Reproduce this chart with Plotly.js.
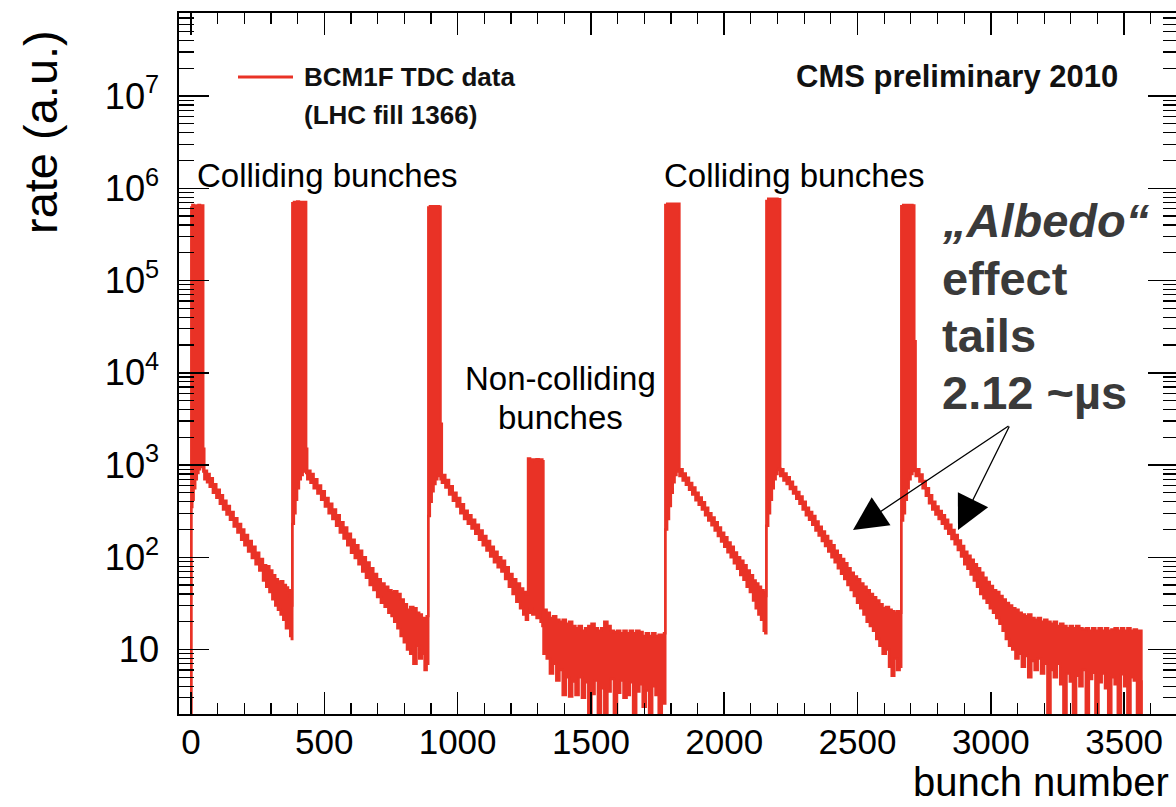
<!DOCTYPE html>
<html>
<head>
<meta charset="utf-8">
<script src="https://cdn.plot.ly/plotly-3.0.1.min.js"></script>
<style>
html,body{margin:0;padding:0;background:#ffffff;overflow:hidden;}
#chart{width:1178px;height:807px;}
</style>
</head>
<body>
<div id="chart"></div>
<script>
// Each row: [bunch number, upper edge of the noisy histogram band, lower edge] (rate, a.u.)
const startRows = [[0, 0.5, 0.5]];
const train1 = [
  [1, 6.2e5, 350], [5, 6.6e5, 420], [10, 6.4e5, 560], [16, 6.5e5, 700],
  [22, 6.3e5, 820], [28, 6.6e5, 900], [34, 6.4e5, 950], [40, 6.5e5, 1000], [46, 1500, 850]
];
const tail1 = [
  [50, 870, 700], [60, 800, 650], [70, 720, 580], [82, 620, 500], [95, 540, 440],
  [108, 470, 380], [120, 410, 330], [133, 360, 290], [146, 310, 255], [160, 265, 215],
  [174, 230, 185], [188, 200, 155], [200, 175, 135], [214, 150, 115], [228, 130, 98],
  [242, 112, 84], [256, 96, 72], [270, 82, 56], [282, 80, 48], [294, 72, 42],
  [305, 64, 35], [316, 58, 30], [326, 54, 27], [336, 55, 24], [346, 50, 21],
  [356, 47, 17], [364, 44, 19], [372, 36, 14], [378, 30, 13]
];
const train2 = [
  [380, 6.9e5, 230], [386, 7.1e5, 300], [392, 7.0e5, 420], [398, 7.2e5, 560],
  [405, 7.0e5, 700], [412, 7.1e5, 780], [419, 6.9e5, 850], [426, 7.1e5, 900], [432, 1500, 820]
];
const tail2 = [
  [436, 870, 700], [448, 800, 640], [460, 700, 560], [474, 600, 490], [488, 520, 420],
  [502, 440, 355], [516, 380, 300], [530, 330, 260], [544, 285, 220], [558, 240, 185],
  [572, 210, 160], [586, 180, 135], [600, 155, 112], [614, 135, 98], [628, 118, 84],
  [642, 100, 70], [656, 88, 60], [670, 76, 50], [684, 66, 44], [698, 58, 37],
  [712, 52, 32], [726, 48, 29], [740, 44, 25], [752, 42, 23], [762, 43, 20],
  [774, 40, 17], [786, 35, 14], [798, 31, 12], [810, 27, 10], [822, 29, 9],
  [834, 28, 7], [846, 25, 11], [856, 24, 8], [866, 22, 9], [876, 21, 6], [884, 23, 7]
];
const train3 = [
  [890, 6.2e5, 280], [896, 6.4e5, 400], [903, 6.3e5, 520], [910, 6.4e5, 620],
  [917, 6.2e5, 700], [924, 6.4e5, 760], [930, 6.3e5, 780], [936, 2800, 700]
];
const tail3 = [
  [941, 780, 640], [954, 690, 570], [968, 590, 480], [982, 500, 410], [996, 440, 355],
  [1010, 375, 300], [1024, 320, 260], [1038, 285, 230], [1052, 255, 205], [1066, 225, 180],
  [1080, 195, 155], [1094, 170, 135], [1108, 150, 118], [1122, 130, 102], [1136, 115, 88],
  [1150, 100, 78], [1164, 92, 70], [1178, 78, 58], [1192, 66, 48], [1206, 58, 40],
  [1220, 52, 33], [1234, 46, 28], [1246, 42, 24], [1256, 40, 21]
];
const nonColliding = [
  [1264, 1180, 25], [1272, 1100, 28], [1280, 1150, 24], [1288, 1140, 26],
  [1296, 1160, 22], [1304, 1120, 25], [1311, 1150, 20], [1318, 1100, 18]
];
const floor1 = [
  [1322, 27, 9], [1334, 25, 8], [1346, 22, 5.5], [1358, 23, 7], [1370, 21, 4.6],
  [1382, 20, 6], [1394, 21, 3.2], [1406, 19, 5], [1418, 20, 3.1], [1430, 18, 4.5],
  [1442, 17, 3.2], [1454, 18, 5], [1466, 16, 3.0], [1478, 17, 4.4], [1490, 18, 1],
  [1502, 19, 3.3], [1514, 17, 4.6], [1526, 16, 1], [1538, 17, 3.8], [1550, 20, 1],
  [1562, 18, 3.5], [1574, 16, 4.8], [1586, 15.5, 1], [1598, 16, 3.4], [1610, 15, 4.6],
  [1622, 16, 3.0], [1634, 15, 3.2], [1646, 16, 4.4], [1658, 15, 1], [1670, 16, 3.5],
  [1682, 15.5, 4.2], [1694, 14, 2.4], [1706, 15, 3.6], [1718, 14, 1], [1730, 15, 4.0],
  [1742, 14, 3.2], [1754, 14.5, 1], [1766, 14, 3.6], [1774, 15, 2.6]
];
const train4 = [
  [1779, 6.6e5, 200], [1786, 6.8e5, 260], [1793, 6.7e5, 360], [1800, 6.8e5, 500],
  [1807, 6.6e5, 650], [1814, 6.8e5, 780], [1821, 6.7e5, 850], [1828, 6.8e5, 880]
];
const tail4 = [
  [1832, 900, 760], [1844, 810, 680], [1856, 730, 610], [1868, 640, 540], [1880, 570, 480],
  [1892, 500, 415], [1904, 445, 370], [1916, 395, 330], [1928, 345, 285], [1940, 300, 250],
  [1952, 270, 222], [1964, 240, 195], [1976, 210, 170], [1988, 185, 148], [2000, 165, 130],
  [2012, 145, 113], [2024, 130, 100], [2036, 113, 86], [2048, 100, 75], [2060, 92, 64],
  [2072, 82, 57], [2084, 72, 48], [2096, 64, 42], [2108, 56, 34], [2118, 52, 28],
  [2128, 48, 24], [2138, 44, 21], [2148, 42, 16], [2154, 38, 15]
];
const train5 = [
  [2158, 7.3e5, 220], [2165, 7.7e5, 300], [2172, 7.5e5, 420], [2179, 7.7e5, 560],
  [2186, 7.6e5, 700], [2193, 7.7e5, 800], [2200, 7.4e5, 880], [2206, 7.6e5, 920]
];
const tail5 = [
  [2210, 900, 760], [2222, 810, 680], [2234, 740, 620], [2246, 660, 550], [2258, 580, 490],
  [2270, 510, 430], [2282, 455, 380], [2294, 400, 330], [2306, 345, 285], [2318, 310, 255],
  [2330, 280, 225], [2342, 245, 195], [2354, 215, 172], [2366, 190, 150], [2378, 170, 132],
  [2390, 150, 115], [2402, 135, 100], [2414, 118, 88], [2426, 105, 76], [2438, 96, 66],
  [2450, 86, 58], [2462, 76, 50], [2474, 68, 44], [2486, 62, 38], [2498, 58, 32],
  [2510, 52, 28], [2522, 48, 24], [2534, 44, 20], [2546, 40, 18], [2558, 37, 16],
  [2570, 34, 13], [2582, 31, 11], [2594, 28, 9], [2606, 29, 10], [2618, 27, 6.5],
  [2628, 26, 5.2], [2638, 25, 8], [2648, 26, 6], [2658, 25, 6.5]
];
const train6 = [
  [2664, 6.4e5, 250], [2671, 6.6e5, 300], [2678, 6.5e5, 420], [2685, 6.6e5, 560],
  [2692, 6.4e5, 700], [2699, 6.6e5, 800], [2706, 6.5e5, 860], [2713, 2.2e4, 880]
];
const tail6 = [
  [2718, 900, 760], [2732, 790, 660], [2744, 670, 560], [2756, 560, 465], [2768, 470, 385],
  [2780, 400, 330], [2792, 355, 290], [2804, 318, 260], [2816, 285, 230], [2828, 255, 205],
  [2840, 225, 180], [2852, 198, 158], [2864, 175, 138], [2876, 152, 120], [2888, 133, 102],
  [2900, 115, 84], [2912, 104, 75], [2924, 94, 65], [2936, 84, 56], [2948, 76, 48],
  [2960, 68, 40], [2972, 60, 36], [2984, 54, 32], [2996, 49, 28], [3008, 44, 25],
  [3020, 42, 22], [3032, 38, 19], [3044, 35, 16], [3056, 32, 13], [3068, 30, 11],
  [3080, 28, 10], [3092, 27, 8], [3104, 25, 9], [3116, 24, 6.5], [3128, 23, 8.5],
  [3140, 24, 5], [3152, 22, 7.5], [3164, 21, 6], [3176, 22, 8], [3188, 20, 5.5],
  [3200, 21, 7], [3212, 20, 1], [3224, 19, 6], [3236, 20, 5], [3248, 18, 7],
  [3260, 19, 4.2], [3272, 18, 1], [3284, 17, 5.5], [3296, 18, 4.5], [3308, 17, 1],
  [3320, 18, 5.2], [3332, 17, 4], [3344, 16.5, 6], [3356, 17, 1], [3368, 16, 4.8],
  [3380, 17, 5.6], [3392, 16, 1], [3404, 17, 4.4], [3416, 16, 5.5], [3428, 17, 3.8],
  [3440, 16, 1], [3452, 16.5, 5], [3464, 17, 4.2], [3476, 16, 1], [3488, 17, 5.4],
  [3500, 16, 4], [3512, 17, 1], [3524, 16, 5], [3536, 16.5, 4.6], [3548, 16, 1], [3558, 16, 4.5]
];
const endRows = [[3565, 0.5, 0.5]];

const segments = [startRows, train1, tail1, train2, tail2, train3, tail3, nonColliding,
  floor1, train4, tail4, train5, tail5, train6, tail6, endRows];
const rows = [].concat(...segments);
const bunch = rows.map(r => r[0]);
const rateUpper = rows.map(r => r[1]);
const rateLower = rows.map(r => r[2]);

const RED = '#e93226';
const FONT = 'Liberation Sans, Arial, Helvetica, sans-serif';

const traces = [
  {x: bunch, y: rateLower, type: 'scatter', mode: 'lines',
   line: {color: RED, width: 2.4, shape: 'hv'}, hoverinfo: 'skip', showlegend: false},
  {x: bunch, y: rateUpper, type: 'scatter', mode: 'lines', fill: 'tonexty', fillcolor: RED,
   line: {color: RED, width: 2.4, shape: 'hv'}, name: 'BCM1F TDC data', showlegend: false}
];

// paper coordinate helpers (plot area: 179..1178 px wide, 13..714 px tall)
const PX = v => (v - 179) / 999;
const PY = v => (714 - v) / 701;

const annotations = [
  {text: 'rate (a.u.)', xref: 'paper', yref: 'paper', x: PX(41), y: PY(132), textangle: -90,
   showarrow: false, font: {family: FONT, size: 47, color: '#000'}, xanchor: 'center', yanchor: 'middle'},
  {text: 'bunch number', xref: 'paper', yref: 'paper', x: PX(1171), y: PY(782),
   showarrow: false, font: {family: FONT, size: 40, color: '#000'}, xanchor: 'right', yanchor: 'middle'},
  {text: '<b>BCM1F TDC data</b>', xref: 'paper', yref: 'paper', x: PX(302), y: PY(77),
   showarrow: false, font: {family: FONT, size: 26, color: '#111'}, xanchor: 'left', yanchor: 'middle'},
  {text: '<b>(LHC fill 1366)</b>', xref: 'paper', yref: 'paper', x: PX(302), y: PY(115),
   showarrow: false, font: {family: FONT, size: 26, color: '#111'}, xanchor: 'left', yanchor: 'middle'},
  {text: '<b>CMS preliminary 2010</b>', xref: 'paper', yref: 'paper', x: PX(1120), y: PY(77),
   showarrow: false, font: {family: FONT, size: 31, color: '#111'}, xanchor: 'right', yanchor: 'middle'},
  {text: 'Colliding bunches', xref: 'paper', yref: 'paper', x: PX(195), y: PY(175),
   showarrow: false, font: {family: FONT, size: 33, color: '#000'}, xanchor: 'left', yanchor: 'middle'},
  {text: 'Colliding bunches', xref: 'paper', yref: 'paper', x: PX(662), y: PY(175),
   showarrow: false, font: {family: FONT, size: 33, color: '#000'}, xanchor: 'left', yanchor: 'middle'},
  {text: 'Non-colliding', xref: 'paper', yref: 'paper', x: PX(560), y: PY(378),
   showarrow: false, font: {family: FONT, size: 33, color: '#000'}, xanchor: 'center', yanchor: 'middle'},
  {text: 'bunches', xref: 'paper', yref: 'paper', x: PX(560), y: PY(418),
   showarrow: false, font: {family: FONT, size: 33, color: '#000'}, xanchor: 'center', yanchor: 'middle'},
  {text: '<b><i>\u201EAlbedo\u201C</i></b>', xref: 'paper', yref: 'paper', x: PX(940), y: PY(221),
   showarrow: false, font: {family: FONT, size: 47, color: '#3a3a3a'}, xanchor: 'left', yanchor: 'middle'},
  {text: '<b>effect</b>', xref: 'paper', yref: 'paper', x: PX(940), y: PY(278),
   showarrow: false, font: {family: FONT, size: 47, color: '#3a3a3a'}, xanchor: 'left', yanchor: 'middle'},
  {text: '<b>tails</b>', xref: 'paper', yref: 'paper', x: PX(940), y: PY(335),
   showarrow: false, font: {family: FONT, size: 47, color: '#3a3a3a'}, xanchor: 'left', yanchor: 'middle'},
  {text: '<b>2.12 ~\u00B5s</b>', xref: 'paper', yref: 'paper', x: PX(940), y: PY(392),
   showarrow: false, font: {family: FONT, size: 47, color: '#3a3a3a'}, xanchor: 'left', yanchor: 'middle'},
  {text: '', xref: 'paper', yref: 'paper', x: PX(853), y: PY(530), ax: 157, ay: -105,
   showarrow: true, arrowhead: 2, arrowsize: 5.2, arrowwidth: 1.3, arrowcolor: '#000', standoff: 0},
  {text: '', xref: 'paper', yref: 'paper', x: PX(958), y: PY(530), ax: 52, ay: -105,
   showarrow: true, arrowhead: 2, arrowsize: 5.2, arrowwidth: 1.3, arrowcolor: '#000', standoff: 0}
];

const shapes = [
  {type: 'line', xref: 'paper', yref: 'paper', x0: PX(238), x1: PX(293), y0: PY(77), y1: PY(77),
   line: {color: RED, width: 3}}
];

const layout = {
  width: 1178, height: 807,
  margin: {l: 179, r: 0, t: 13, b: 93, pad: 0},
  paper_bgcolor: '#ffffff', plot_bgcolor: '#ffffff',
  showlegend: false,
  xaxis: {
    range: [-45, 3702], tickmode: 'linear', tick0: 0, dtick: 500,
    ticks: 'inside', ticklen: 22, tickwidth: 1.5, tickcolor: '#000',
    showline: true, linecolor: '#000', linewidth: 2, mirror: 'allticks',
    showgrid: false, zeroline: false, ticklabelstandoff: -4,
    tickfont: {family: FONT, size: 35, color: '#000'},
    minor: {tick0: 0, dtick: 100, ticks: 'inside', ticklen: 11, tickwidth: 1.2, tickcolor: '#000', showgrid: false}
  },
  yaxis: {
    type: 'log', range: [Math.log10(2), 7.9], tickmode: 'linear', tick0: 0, dtick: 1,
    exponentformat: 'power',
    ticks: 'inside', ticklen: 30, tickwidth: 1.5, tickcolor: '#000',
    showline: true, linecolor: '#000', linewidth: 2, mirror: 'allticks',
    showgrid: false, zeroline: false, ticklabelstandoff: 12,
    tickfont: {family: FONT, size: 29, color: '#000'},
    minor: {dtick: 'D1', ticks: 'inside', ticklen: 15, tickwidth: 1.2, tickcolor: '#000', showgrid: false}
  },
  annotations: annotations,
  shapes: shapes
};

Plotly.newPlot('chart', traces, layout, {displayModeBar: false, staticPlot: true});
</script>
</body>
</html>
